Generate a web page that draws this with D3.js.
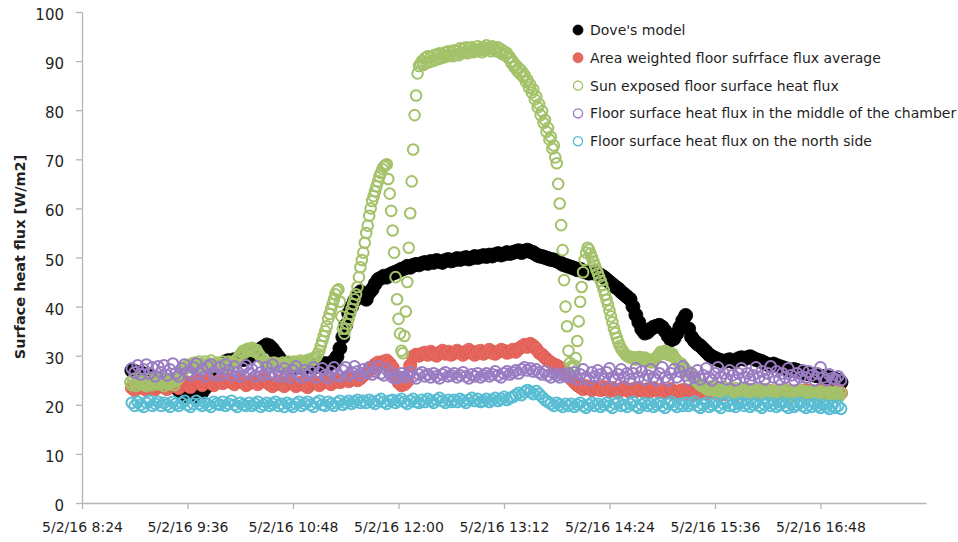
<!DOCTYPE html>
<html>
<head>
<meta charset="utf-8">
<script src="https://cdn.jsdelivr.net/npm/d3@7"></script>
<style>
  html, body { margin: 0; padding: 0; background: #fff; }
  svg { display: block; font-family: "DejaVu Sans", "Noto Sans", sans-serif; }
</style>
</head>
<body>
<svg id="chart" width="958" height="542"></svg>
<script>
// Sampling: the model and the three floor sensors are logged every 2 minutes,
// the sun-exposed sensor every minute.
const logStart = new Date(2016, 4, 2, 8, 58);
const logStepMinutes = 2;
const sunLogStart = new Date(2016, 4, 2, 8, 57);
const sunLogStepMinutes = 1;

// Axis ticks
const axisStart = new Date(2016, 4, 2, 8, 24);
const axisEnd = new Date(2016, 4, 2, 18, 0);
const xTickStepMinutes = 72;
const xTickCount = 8;
const yTicks = [0, 10, 20, 30, 40, 50, 60, 70, 80, 90, 100];

const seriesNames = [
  "Dove's model",
  "Area weighted floor sufrface flux average",
  "Sun exposed floor surface heat flux",
  "Floor surface heat flux in the middle of the chamber",
  "Floor surface heat flux on the north side"
];

// Dove's model [W/m2]
const doveModel = [
  27.0,26.8,26.5,26.6,26.2,26.0,25.8,25.6,25.4,25.2,
  25.0,24.8,24.6,24.4,24.0,23.6,23.0,22.4,22.0,21.8,
  21.8,22.0,21.8,22.2,22.6,23.4,24.4,25.4,26.4,27.2,
  27.8,28.4,28.8,29.0,28.8,29.2,29.0,29.4,29.2,29.6,
  29.8,30.2,30.6,31.0,31.4,31.8,32.2,32.0,31.4,30.6,
  29.8,29.0,28.4,28.2,27.8,28.0,27.6,27.9,27.6,27.8,
  27.7,28.0,27.6,27.9,28.2,27.8,28.4,28.0,28.5,29.0,
  29.8,31.5,33.8,36.2,38.6,40.0,41.2,42.4,43.0,42.0,
  41.5,42.8,43.5,44.6,45.5,45.8,46.2,46.0,46.5,46.8,
  47.0,47.3,47.6,47.8,48.2,48.0,48.4,48.6,48.5,48.8,
  49.0,48.8,49.2,49.0,49.4,49.2,49.0,49.4,49.6,49.3,
  49.5,49.8,49.6,49.8,50.0,49.7,49.9,50.2,50.0,50.2,
  50.4,50.2,50.5,50.3,50.6,50.8,50.5,50.7,51.0,50.8,
  51.0,51.2,51.4,51.0,51.3,51.5,51.2,51.0,50.6,50.3,
  50.2,50.0,49.8,49.6,49.5,49.3,49.0,48.6,48.4,48.2,
  48.0,47.8,47.5,47.6,47.2,47.0,46.8,47.0,46.8,46.6,
  46.4,46.0,45.5,45.0,44.5,44.0,43.6,43.0,42.5,42.0,
  41.5,40.0,38.3,36.8,35.4,34.6,34.8,35.4,35.8,36.0,
  36.2,35.8,35.0,34.0,33.2,33.5,34.5,35.8,37.2,38.2,
  35.5,33.8,33.0,32.4,32.0,31.4,30.8,30.2,29.8,29.5,
  29.2,29.0,28.8,29.0,29.2,28.8,29.0,29.4,29.6,29.3,
  29.6,29.8,29.5,29.2,29.0,28.8,28.5,28.2,28.0,28.3,
  28.0,27.8,27.6,27.4,27.2,27.0,27.2,27.0,26.8,26.6,
  26.5,26.3,26.2,26.0,25.9,25.8,25.7,25.6,25.5,25.4,
  25.2,25.0,24.6
];

// Area weighted floor surface flux average [W/m2]
const areaWeighted = [
  23.5,23.0,23.8,24.2,23.4,23.0,23.6,24.0,23.2,23.8,
  24.2,23.6,23.2,24.0,24.5,23.8,23.4,24.2,24.8,24.0,
  23.6,24.4,25.0,24.6,24.0,24.8,25.2,24.4,24.0,24.6,
  25.0,24.4,24.8,25.4,24.6,24.2,24.8,25.2,24.6,24.0,
  24.4,25.0,24.6,24.2,24.8,25.4,24.8,24.2,23.8,24.4,
  24.8,24.2,23.8,24.4,25.0,24.4,23.8,24.2,24.6,24.0,
  23.6,24.2,24.8,24.4,24.0,24.6,25.0,24.6,24.2,24.8,
  25.2,24.6,25.0,25.4,24.8,25.2,25.6,25.0,25.4,26.0,
  26.4,27.0,27.6,28.2,28.6,28.2,28.8,29.0,28.4,27.6,
  25.8,24.6,24.0,24.2,24.8,28.0,29.8,30.2,30.0,30.4,
  30.6,30.2,30.8,30.4,30.0,30.6,31.0,30.4,30.8,30.2,
  30.6,31.0,30.6,30.2,30.8,31.2,30.6,30.2,30.8,31.0,
  30.4,30.8,31.2,30.6,30.4,30.8,31.2,31.0,30.6,30.8,
  31.2,30.8,31.4,31.8,32.2,31.8,32.4,32.0,31.4,30.6,
  30.2,29.6,29.0,28.6,28.2,28.0,27.6,27.2,26.6,26.0,
  25.2,24.6,24.0,23.6,23.2,23.8,23.4,23.0,23.6,23.2,
  23.0,23.6,23.2,22.8,23.4,23.0,22.6,23.2,23.6,23.0,
  22.6,23.2,22.8,23.4,23.0,22.6,23.2,22.8,23.4,23.0,
  22.6,23.0,22.4,22.8,23.2,22.6,22.2,22.8,23.0,22.4,
  22.8,22.4,22.0,22.6,23.0,22.4,22.8,22.2,22.6,23.0,
  22.4,22.8,22.2,22.6,23.0,22.4,22.0,22.6,22.8,22.2,
  22.6,23.0,22.4,22.8,22.2,22.6,23.0,22.4,22.8,22.2,
  22.6,22.2,22.8,23.0,22.4,22.6,22.2,22.8,22.4,22.6,
  23.0,22.4,22.8,22.2,22.6,23.0,22.4,22.8,22.6,22.2,
  22.6,23.0,22.4
];

// Sun exposed floor surface heat flux [W/m2], 1-minute log
const sunExposed = [
  24.6,24.0,25.2,24.4,23.8,24.8,25.4,24.2,24.6,25.0,
  24.2,23.8,24.6,25.2,24.4,24.0,24.8,25.4,24.6,24.2,
  24.8,25.2,24.4,23.8,24.6,25.0,24.2,24.8,25.4,24.6,
  24.0,24.8,25.2,25.6,26.0,26.6,27.0,27.4,27.8,28.0,
  27.6,28.0,28.4,28.0,28.6,27.8,28.2,28.8,28.0,27.6,
  28.2,28.8,28.0,27.8,28.4,29.0,28.2,27.8,28.0,28.6,
  28.2,27.8,28.4,28.8,28.0,27.6,28.2,28.8,28.0,28.4,
  28.8,28.4,29.0,29.4,29.8,30.2,30.6,31.0,30.6,31.2,
  31.4,31.0,31.4,31.6,31.2,30.8,31.2,30.6,30.2,29.8,
  29.4,29.0,28.6,28.2,28.6,28.2,27.8,28.2,28.6,28.0,
  28.4,28.0,27.8,28.2,28.6,28.2,27.8,28.4,28.8,28.2,
  28.0,28.4,28.8,28.4,28.0,28.6,29.0,28.6,28.2,28.8,
  29.0,28.6,29.2,28.8,29.4,29.2,29.6,29.8,30.4,31.0,
  32.0,33.0,34.0,35.0,36.0,37.5,38.5,39.5,40.5,41.5,
  42.5,43.2,43.5,41.0,38.0,35.5,34.5,35.5,36.5,37.5,
  38.5,39.5,40.5,41.5,42.5,44.0,46.0,48.0,49.5,51.0,
  53.0,55.0,56.5,58.5,60.0,61.5,62.5,63.5,64.5,65.5,
  66.5,67.2,68.0,68.5,68.8,69.0,66.0,63.0,59.5,55.5,
  51.0,46.0,41.5,37.5,34.5,31.0,30.5,34.0,39.0,45.0,
  52.0,59.0,65.5,72.0,79.0,83.0,87.5,89.0,89.5,90.0,
  89.2,90.6,89.6,91.0,89.8,90.8,90.0,91.2,90.2,91.4,
  90.4,91.6,90.6,91.4,90.8,91.8,91.0,92.0,91.2,91.8,
  91.0,92.2,91.4,92.0,91.2,92.6,91.6,92.4,91.8,92.8,
  91.6,92.6,92.0,92.8,91.8,92.4,92.0,93.0,92.2,92.6,
  91.8,92.8,92.2,93.2,92.4,92.8,92.0,93.0,92.4,92.6,
  92.0,92.8,91.8,92.4,91.4,92.0,91.2,91.6,90.6,90.8,
  89.6,90.0,88.8,89.2,88.0,88.6,87.4,88.0,86.8,87.2,
  85.8,86.2,84.6,85.2,83.6,84.2,82.2,82.8,80.6,81.2,
  79.0,79.8,77.4,78.0,75.6,76.4,74.0,74.6,72.2,72.8,
  70.4,69.2,65.0,61.0,56.6,51.5,45.4,40.0,36.0,31.0,
  28.5,27.8,27.4,28.0,29.5,33.0,37.0,41.0,44.0,47.0,
  49.5,51.0,52.0,51.6,50.8,50.0,49.2,48.4,47.6,46.8,
  46.0,45.2,44.4,43.4,42.4,41.4,40.4,39.2,38.0,36.8,
  35.6,34.6,33.6,32.8,32.0,31.4,31.0,30.6,30.2,30.0,
  29.8,29.6,29.8,29.4,29.6,29.2,29.6,29.8,29.4,29.6,
  29.2,29.6,29.4,29.0,28.8,29.2,28.6,28.8,29.2,29.6,
  30.0,30.4,30.8,30.4,30.8,31.0,30.6,30.2,30.6,30.0,
  30.4,29.8,29.4,29.0,28.6,28.2,28.4,27.8,27.6,27.2,
  27.0,26.6,26.2,26.0,25.6,25.2,25.0,24.6,24.4,24.0,
  23.8,24.0,23.6,23.2,23.6,23.0,23.4,23.8,23.2,22.8,
  23.2,23.6,23.0,22.6,23.2,23.6,22.8,22.4,23.0,23.4,
  22.8,22.4,23.0,23.4,22.6,22.2,22.8,23.2,22.6,23.0,
  23.4,22.8,22.4,23.0,22.6,22.2,22.8,23.2,22.6,22.4,
  23.0,22.6,22.2,22.8,23.2,22.6,22.2,22.8,22.4,22.0,
  22.6,23.0,22.4,22.0,22.6,22.8,22.2,22.6,23.0,22.4,
  22.0,22.6,22.2,22.8,22.4,22.0,22.6,23.0,22.4,22.2,
  22.8,22.4,22.0,22.6,22.2,22.8,22.4,22.0,22.6,22.2,
  21.8,22.4,22.8,22.2,21.8,22.4,22.0,22.6,22.2,21.8,
  22.4,22.0,22.6,22.2,21.8,22.4
];

// Floor surface heat flux in the middle of the chamber [W/m2]
const middleChamber = [
  27.4,26.6,28.0,26.2,27.2,28.2,26.4,27.6,25.8,27.8,
  26.6,28.0,26.0,27.2,28.4,26.4,25.8,27.4,28.2,26.6,
  26.0,27.6,28.4,26.4,27.2,25.8,27.8,28.2,26.6,26.0,
  27.6,26.2,28.2,27.0,26.0,27.8,26.6,25.8,27.4,28.0,
  26.4,27.2,25.8,27.8,26.6,26.0,27.6,26.4,28.2,26.0,
  26.8,25.8,27.4,26.4,25.6,27.0,27.8,26.2,25.6,27.0,
  26.0,26.8,27.6,25.6,26.6,27.4,26.0,25.4,26.8,27.6,
  26.2,25.8,27.0,27.6,26.0,26.6,27.8,26.8,26.0,27.2,
  26.6,27.6,26.2,26.8,27.8,26.4,26.0,27.2,26.4,25.6,
  25.4,25.8,26.4,25.6,26.0,26.6,25.8,25.4,26.2,26.6,
  25.8,26.2,25.6,26.4,25.8,25.4,26.2,26.6,25.8,26.0,
  26.4,25.6,26.0,26.6,25.8,25.4,26.2,25.8,26.4,25.6,
  26.0,26.4,25.8,26.2,26.8,26.0,25.6,26.4,26.8,26.2,
  26.6,27.0,26.4,27.2,27.6,27.0,27.4,26.8,27.2,26.6,
  26.2,26.8,26.0,25.6,26.4,26.0,25.6,26.2,25.8,26.4,
  25.6,26.6,25.2,26.2,27.2,25.6,25.0,26.6,25.8,27.0,
  26.2,25.2,26.6,27.4,25.6,25.0,26.2,27.2,25.6,26.4,
  25.2,26.4,27.4,25.6,26.8,25.2,26.0,27.2,25.6,25.0,
  26.4,27.6,25.6,25.0,26.4,27.2,25.6,26.8,27.8,26.0,
  25.2,26.4,25.6,27.0,25.2,26.0,27.4,25.6,25.0,26.4,
  27.6,25.6,26.4,25.2,27.0,26.0,25.0,26.4,27.4,25.6,
  26.4,25.2,26.0,27.6,25.6,26.8,25.2,26.4,27.8,25.6,
  26.8,25.2,26.4,25.6,27.4,26.0,25.0,26.4,25.6,27.0,
  25.6,26.8,26.0,25.0,26.4,27.6,25.6,25.0,26.2,25.4,
  25.2,25.8,25.0
];

// Floor surface heat flux on the north side [W/m2]
const northSide = [
  20.4,19.8,20.6,20.0,19.6,20.4,20.8,19.8,20.2,20.6,
  19.8,20.4,20.0,19.6,20.6,20.2,19.8,20.4,20.8,20.0,
  19.6,20.2,20.8,20.2,19.8,20.4,20.0,19.6,20.6,20.2,
  20.0,20.6,19.8,20.2,20.8,20.0,19.6,20.4,20.0,19.8,
  20.4,19.8,20.2,20.6,19.6,20.0,20.4,19.8,20.2,20.6,
  19.8,20.2,19.6,20.4,20.0,19.6,20.2,20.6,19.8,20.2,
  20.6,20.0,19.6,20.4,20.8,20.0,19.8,20.6,20.2,19.8,
  20.4,20.8,20.0,20.4,20.8,20.2,20.6,21.0,20.4,20.8,
  20.4,21.0,20.6,20.2,20.8,21.2,20.6,20.2,20.8,21.0,
  20.4,20.8,21.2,20.6,20.2,20.8,21.2,20.6,20.4,21.0,
  20.6,21.2,20.8,20.4,21.0,21.4,20.8,20.4,21.0,20.6,
  21.0,20.6,21.2,20.8,20.4,21.0,21.4,20.8,21.2,20.6,
  20.8,21.2,20.6,21.0,21.4,20.8,21.2,21.6,21.0,21.4,
  21.6,22.0,22.4,22.0,22.6,23.0,22.6,22.2,22.8,22.2,
  21.6,21.0,20.6,20.2,19.8,20.4,20.0,19.6,20.2,19.8,
  20.2,19.6,20.0,20.4,19.8,19.4,20.0,20.4,19.8,20.2,
  19.6,20.0,20.4,19.8,19.4,20.2,20.6,19.8,20.0,19.6,
  20.2,20.6,19.8,19.4,20.0,20.4,19.8,20.2,19.6,20.0,
  20.4,19.8,19.4,20.2,20.6,20.0,19.6,20.2,19.8,20.4,
  19.8,20.2,20.6,19.8,19.4,20.0,20.4,19.6,20.0,20.4,
  19.8,19.4,20.2,20.6,19.8,20.0,19.6,20.2,20.4,19.8,
  20.2,19.6,20.0,20.4,19.8,19.4,20.0,20.4,19.8,20.2,
  19.6,20.0,20.4,19.8,19.4,20.2,19.6,20.0,20.4,19.8,
  19.4,20.0,19.6,20.2,19.8,19.4,20.0,19.6,19.2,19.8,
  19.4,19.8,19.2
];

const svg = d3.select("#chart");
const x = d3.scaleTime().domain([axisStart, axisEnd]).range([82, 926]);
const y = d3.scaleLinear().domain([0, 100]).range([503, 12]);

const fmt = d3.timeFormat("%-m/%-d/%y %-H:%M");
const xTickValues = d3.range(xTickCount).map(k => d3.timeMinute.offset(axisStart, k * xTickStepMinutes));

const axisColor = "#b4b4b4";
const textColor = "#1f1f1f";
const fontFamily = "'DejaVu Sans', 'Noto Sans', sans-serif";

// Y axis
const yAxis = svg.append("g")
  .attr("transform", "translate(82,0)")
  .call(d3.axisLeft(y).tickValues(yTicks).tickSize(6).tickSizeOuter(0).tickPadding(12));
// X axis
const xAxis = svg.append("g")
  .attr("transform", "translate(0,503)")
  .call(d3.axisBottom(x).tickValues(xTickValues).tickFormat(fmt).tickSize(6).tickSizeOuter(0).tickPadding(13));

[yAxis, xAxis].forEach(g => {
  g.select(".domain").attr("stroke", axisColor).attr("stroke-width", 1.3);
  g.selectAll(".tick line").attr("stroke", axisColor).attr("stroke-width", 1.3);
  g.selectAll(".tick text").attr("fill", textColor).attr("font-size", 14)
    .attr("font-family", fontFamily);
});
yAxis.selectAll(".tick text").attr("font-size", 15).attr("dy", "0.5em");

// Y axis title
svg.append("text")
  .attr("transform", "translate(25,257) rotate(-90)")
  .attr("text-anchor", "middle")
  .attr("font-size", 14.5)
  .attr("font-weight", 700)
  .attr("fill", textColor)
  .text("Surface heat flux [W/m2]");

// Series styles, drawn bottom to top
const series = [
  { name: seriesNames[0], values: doveModel, start: logStart, step: logStepMinutes,
    fill: "#000000", stroke: "#000000", r: 7.0, sw: 0.8, open: false },
  { name: seriesNames[1], values: areaWeighted, start: logStart, step: logStepMinutes,
    fill: "#e8685f", stroke: "#d95a51", r: 6.6, sw: 0.8, open: false },
  { name: seriesNames[2], values: sunExposed, start: sunLogStart, step: sunLogStepMinutes,
    fill: "none", stroke: "#a3c26a", r: 5.3, sw: 2.0, open: true },
  { name: seriesNames[3], values: middleChamber, start: logStart, step: logStepMinutes,
    fill: "none", stroke: "#9a7cc3", r: 5.4, sw: 2.0, open: true },
  { name: seriesNames[4], values: northSide, start: logStart, step: logStepMinutes,
    fill: "none", stroke: "#58bdd3", r: 5.4, sw: 2.0, open: true }
];

const plot = svg.append("g");
series.forEach(s => {
  const pts = s.values.map((v, i) => ({ t: d3.timeMinute.offset(s.start, i * s.step), v }));
  plot.append("g")
    .selectAll("circle")
    .data(pts)
    .join("circle")
    .attr("cx", d => x(d.t))
    .attr("cy", d => y(d.v))
    .attr("r", s.r)
    .attr("fill", s.fill)
    .attr("stroke", s.stroke)
    .attr("stroke-width", s.sw);
});

// Legend
const legend = svg.append("g").attr("transform", "translate(578,30)");
series.forEach((s, i) => {
  const row = legend.append("g").attr("transform", `translate(0,${i * 27.8})`);
  row.append("circle")
    .attr("r", s.open ? 4.6 : 5)
    .attr("fill", s.open ? "#fff" : s.fill)
    .attr("stroke", s.stroke)
    .attr("stroke-width", s.open ? 1.3 : 0.8);
  row.append("text")
    .attr("x", 12)
    .attr("dy", "0.35em")
    .attr("font-size", 14)
    .attr("fill", textColor)
    .text(s.name);
});
</script>
</body>
</html>
